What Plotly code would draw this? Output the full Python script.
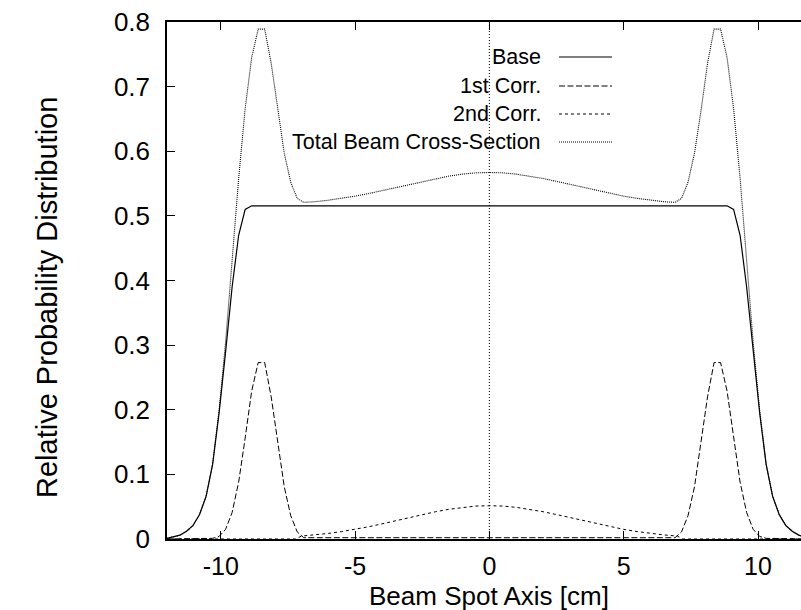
import plotly.graph_objects as go

# ---- data ----
base_x = [-12, -11.758, -11.515, -11.273, -11.03, -10.788, -10.545, -10.303, -10.061,
          -9.818, -9.576, -9.333, -9.091, -8.848, 8.848, 9.091, 9.333, 9.576, 9.818,
          10.061, 10.303, 10.545, 10.788, 11.03, 11.273, 11.515, 11.758, 12]
base_y = [0.001, 0.003, 0.006, 0.012, 0.021, 0.038, 0.066, 0.115, 0.195,
          0.29, 0.39, 0.47, 0.51, 0.5156, 0.5156, 0.51, 0.47, 0.39, 0.29,
          0.195, 0.115, 0.066, 0.038, 0.021, 0.012, 0.006, 0.003, 0.001]

corr1_x = [-12, -10.303, -10.061, -9.818, -9.576, -9.333, -9.091, -8.848, -8.606, -8.364,
           -8.121, -7.879, -7.636, -7.394, -7.152, -6.909,
           6.909, 7.152, 7.394, 7.636, 7.879, 8.121, 8.364, 8.606, 8.848, 9.091,
           9.333, 9.576, 9.818, 10.061, 10.303, 12]
corr1_y = [0, 0.001, 0.004, 0.015, 0.041, 0.088, 0.156, 0.229, 0.273, 0.273,
           0.22, 0.147, 0.081, 0.036, 0.011, 0.002,
           0.002, 0.011, 0.036, 0.081, 0.147, 0.22, 0.273, 0.273, 0.229, 0.156,
           0.088, 0.041, 0.015, 0.004, 0.001, 0]

corr2_x = [-12, -7.2, -7, -6.5, -6, -5.5, -5, -4.5, -4, -3.5, -3, -2.5, -2, -1.5, -1, -0.5, 0,
           0.5, 1, 1.5, 2, 2.5, 3, 3.5, 4, 4.5, 5, 5.5, 6, 6.5, 7, 7.2, 12]
corr2_y = [0, 0, 0.0045, 0.0063, 0.0086, 0.0115, 0.0149, 0.0189, 0.0234, 0.0282, 0.0332,
           0.0378, 0.0422, 0.046, 0.049, 0.051, 0.0515,
           0.051, 0.049, 0.046, 0.0422, 0.0378, 0.0332, 0.0282, 0.0234, 0.0189, 0.0149,
           0.0115, 0.0086, 0.0063, 0.0045, 0, 0]

total_x = [-12, -11.758, -11.515, -11.273, -11.03, -10.788, -10.545, -10.303, -10.061,
           -9.818, -9.576, -9.333, -9.091, -8.848, -8.606, -8.364, -8.121, -7.879, -7.636,
           -7.394, -7.152, -6.909, -6.5, -6, -5.5, -5, -4.5, -4, -3.5, -3, -2.5, -2, -1.5,
           -1, -0.5, 0, 0.5, 1, 1.5, 2, 2.5, 3, 3.5, 4, 4.5, 5, 5.5, 6, 6.5, 6.909,
           7.152, 7.394, 7.636, 7.879, 8.121, 8.364, 8.606, 8.848, 9.091, 9.333, 9.576,
           9.818, 10.061, 10.303, 10.545, 10.788, 11.03, 11.273, 11.515, 11.758, 12]
total_y = [0.001, 0.003, 0.006, 0.012, 0.021, 0.038, 0.066, 0.116, 0.199,
           0.305, 0.431, 0.558, 0.666, 0.745, 0.789, 0.789, 0.736, 0.663, 0.597,
           0.552, 0.527, 0.521, 0.5219, 0.5242, 0.5271, 0.5305, 0.5345, 0.539, 0.5438,
           0.5488, 0.5534, 0.5578, 0.5616, 0.5646, 0.5666, 0.5671, 0.5666, 0.5646, 0.5616,
           0.5578, 0.5534, 0.5488, 0.5438, 0.539, 0.5345, 0.5305, 0.5271, 0.5242, 0.5219,
           0.521, 0.527, 0.552, 0.597, 0.663, 0.736, 0.789, 0.789, 0.745, 0.666, 0.558,
           0.431, 0.305, 0.199, 0.116, 0.066, 0.038, 0.021, 0.012, 0.006, 0.003, 0.001]

series_names = ["Base", "1st Corr.", "2nd Corr.", "Total Beam Cross-Section"]
y_ticks = [0, 0.1, 0.2, 0.3, 0.4, 0.5, 0.6, 0.7, 0.8]
x_ticks = [-10, -5, 0, 5, 10]

FONT = "Liberation Sans, Arial, Helvetica, sans-serif"
dashes = ["solid", "6px,2.5px", "3px,3px", "1px,1px"]
widths = [1.2, 1, 1, 1.1]

fig = go.Figure()
for name, xs, ys, d, w in zip(series_names,
                              [base_x, corr1_x, corr2_x, total_x],
                              [base_y, corr1_y, corr2_y, total_y], dashes, widths):
    fig.add_trace(go.Scatter(x=xs, y=ys, mode="lines", name=name, showlegend=False,
                             line=dict(color="black", width=w, dash=d)))

# zero axis (dotted)
fig.add_shape(type="line", xref="x", yref="y", x0=0, x1=0, y0=0, y1=0.8,
              line=dict(color="black", width=1, dash="1px,2px"))

L, T, B, W, H = 167, 22, 71, 801, 610
PW, PH = W - L, H - T - B


def px(x):
    return (x - L) / PW


def py(y):
    return (H - B - y) / PH


# legend: right-aligned text, sample line to the right
rows = [57, 86, 114, 142]
for name, r, d, w in zip(series_names, rows, dashes, widths):
    fig.add_annotation(x=px(543), y=py(r), xref="paper", yref="paper", text=name,
                       showarrow=False, xanchor="right", yanchor="middle",
                       font=dict(family=FONT, size=21.5, color="black"))
    fig.add_shape(type="line", xref="paper", yref="paper", x0=px(559), x1=px(612),
                  y0=py(r), y1=py(r), line=dict(color="black", width=w, dash=d))

# axis titles
fig.add_annotation(x=0, y=py(596), xref="x", yref="paper", text="Beam Spot Axis [cm]",
                   showarrow=False, xanchor="center", yanchor="middle",
                   font=dict(family=FONT, size=26, color="black"))
fig.add_annotation(x=px(47), y=py(298), xref="paper", yref="paper",
                   text="Relative Probability Distribution", textangle=-90,
                   showarrow=False, xanchor="center", yanchor="middle",
                   font=dict(family=FONT, size=29, color="black"))

fig.update_layout(
    width=W, height=H, margin=dict(l=L, r=0, t=T, b=B),
    plot_bgcolor="white", paper_bgcolor="white",
    font=dict(family=FONT, color="black"),
    xaxis=dict(range=[-12, 11.6], tickvals=x_ticks, ticktext=[str(v) for v in x_ticks],
               showgrid=False, zeroline=False, showline=True, linecolor="black",
               linewidth=1.5, mirror="ticks", ticks="inside", ticklen=8, tickwidth=1.2,
               tickcolor="black", tickfont=dict(family=FONT, size=25, color="black"),
               ticklabelstandoff=4),
    yaxis=dict(range=[0, 0.8], tickvals=y_ticks, ticktext=[f"{v:g}" for v in y_ticks],
               showgrid=False, zeroline=False, showline=True, linecolor="black",
               linewidth=1.5, mirror=False, ticks="inside", ticklen=8, tickwidth=1.2,
               tickcolor="black", tickfont=dict(family=FONT, size=26, color="black"),
               ticklabelstandoff=10),
)

fig.write_html("out.html")
